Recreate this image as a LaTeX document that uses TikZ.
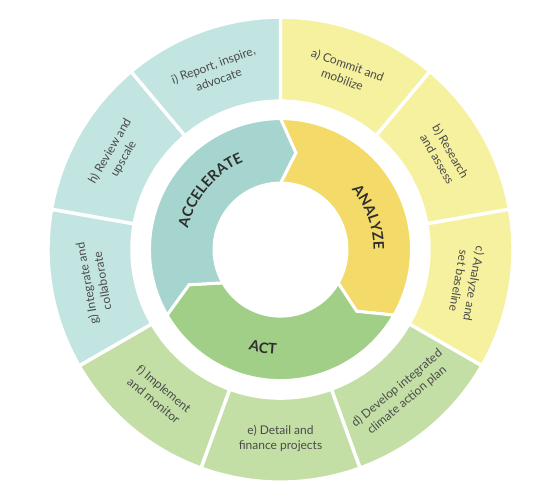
\documentclass[tikz,border=0pt]{standalone}
\usepackage{fontspec}
\setmainfont{Lato}
\usetikzlibrary{decorations.text}
\definecolor{outY}{HTML}{F5F19F}
\definecolor{outG}{HTML}{C4DFA6}
\definecolor{outT}{HTML}{C3E5E1}
\definecolor{midY}{HTML}{F4DA68}
\definecolor{midG}{HTML}{A2CF88}
\definecolor{midT}{HTML}{A6D4CE}
\definecolor{txtO}{HTML}{4A4A4A}
\definecolor{txtM}{HTML}{2E2E2E}
\newcommand\outseg[3]{\fill[#3, draw=white, line width=3.4pt] (#1:232.5pt) arc[start angle=#1, end angle=#2, radius=232.5pt] -- (#2:148.5pt) arc[start angle=#2, end angle=#1, radius=148.5pt] -- cycle;}
\newcommand\midseg[3]{\fill[#3, draw=white, line width=3pt, line join=miter] (#1:131pt) arc[start angle=#1, end angle=#2, radius=131pt] -- ({#2-9}:98pt) -- (#2:66.5pt) arc[start angle=#2, end angle=#1, radius=66.5pt] -- ({#1-9}:98pt) -- cycle;}
\begin{document}
\begin{tikzpicture}[
  outtext/.style={font=\fontsize{12}{15.5}\selectfont, text=txtO, align=center, inner sep=0pt},
  midtext/.style={decorate, decoration={text along path, text align=center, text={|\color{txtM}\bfseries\fontsize{14.5}{17}\selectfont|#1}}}
]
\useasboundingbox (-280.5pt,-249.4pt) rectangle (279.5pt,249.6pt);
\fill[white] (-280.5pt,-249.4pt) rectangle (279.5pt,249.6pt);
% outer ring
\outseg{90}{50}{outY}
\outseg{50}{10}{outY}
\outseg{10}{-30}{outY}
\outseg{-30}{-70}{outG}
\outseg{-70}{-110}{outG}
\outseg{-110}{-150}{outG}
\outseg{-150}{-190}{outT}
\outseg{-190}{-230}{outT}
\outseg{-230}{-270}{outT}
% middle ring
\midseg{90}{-30}{midY}
\midseg{-30}{-150}{midG}
\midseg{210}{90}{midT}
% outer labels
\node[outtext, rotate=-20] (ta) at (70:189pt) {a) Commit and\\mobilize};
\node[outtext, rotate=-60] (tb) at (30:189pt) {b) Research\\and assess};
\node[outtext, rotate=-100] (tc) at (-10:189pt) {c) Analyze and\\set baseline};
\node[outtext, rotate=40] (td) at (-50:189pt) {d) Develop integrated\\climate action plan};
\node[outtext, rotate=0] (te) at (-90:189pt) {e) Detail and\\finance projects};
\node[outtext, rotate=-40] (tf) at (-130:189pt) {f) Implement\\and monitor};
\node[outtext, rotate=100] (tg) at (190:189pt) {g) Integrate and\\collaborate};
\node[outtext, rotate=60] (th) at (150:189pt) {h) Review and\\upscale};
\node[outtext, rotate=20] (ti) at (110:189pt) {i) Report, inspire,\\advocate};
% middle labels
\path[midtext=ACCELERATE] (200:95pt) arc[start angle=200, end angle=80, radius=95pt];
\path[midtext=ANALYZE] (80:93pt) arc[start angle=80, end angle=-40, radius=93pt];
\path[midtext=ACT] (200:105pt) arc[start angle=200, end angle=320, radius=105pt];
\end{tikzpicture}
\end{document}
